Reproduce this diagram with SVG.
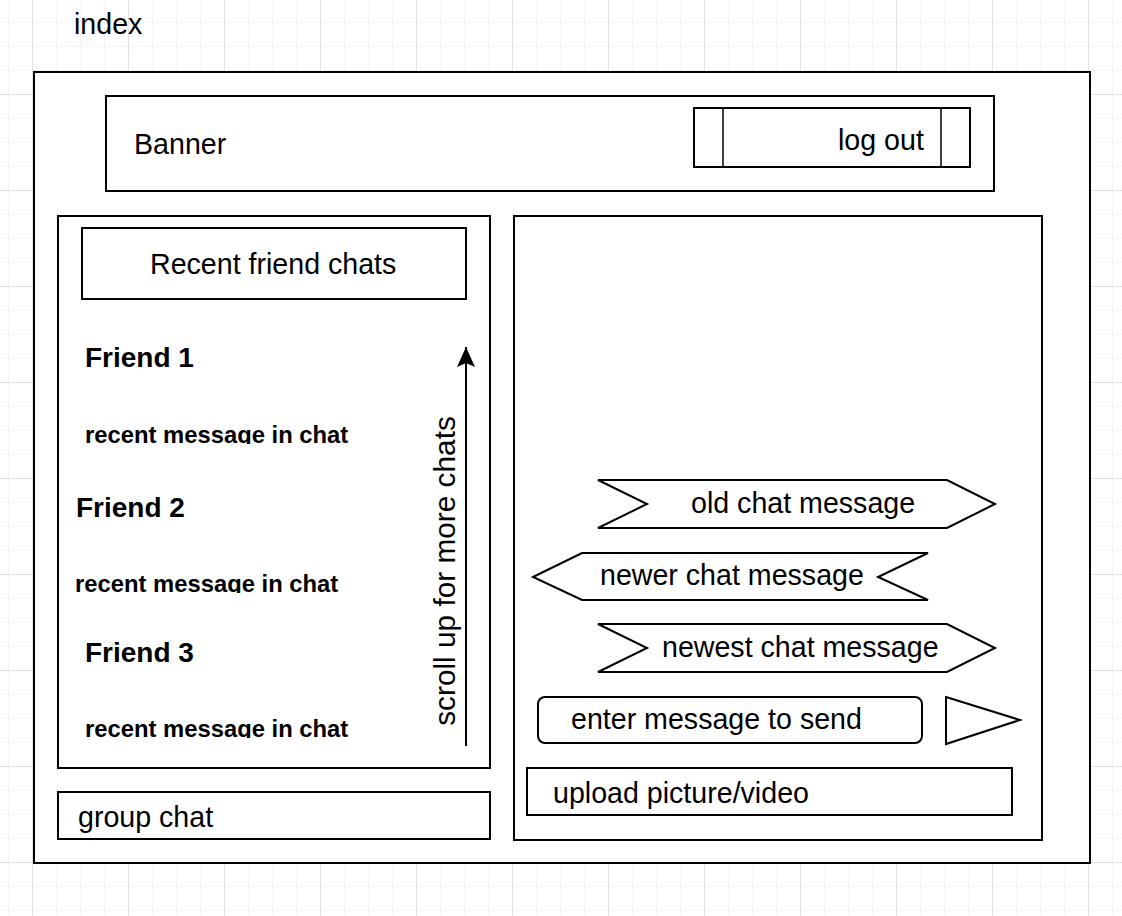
<svg xmlns="http://www.w3.org/2000/svg" width="1122" height="916" viewBox="0 0 1122 916">
<defs>
<style>
.t{font-family:"Liberation Sans",Arial,Helvetica,sans-serif;font-size:28.6px;fill:#000}
.b{font-weight:bold;font-size:28px}
.s{font-size:23.8px}
.v{font-size:29.8px}
.box{fill:#fff;stroke:#000;stroke-width:2}
.ln{fill:none;stroke:#000;stroke-width:1.5}
</style>
<pattern id="minor" patternUnits="userSpaceOnUse" x="8" y="22" width="24" height="24">
<rect x="0" y="0" width="1" height="24" fill="#f3f3f3"/>
<rect x="0" y="0" width="24" height="1" fill="#f3f3f3"/>
</pattern>
<pattern id="major" patternUnits="userSpaceOnUse" x="32" y="94" width="96" height="96">
<rect x="0" y="0" width="1" height="96" fill="#e2e2e2"/>
<rect x="0" y="0" width="96" height="1" fill="#e2e2e2"/>
</pattern>
<marker id="arrow" viewBox="0 0 20 20" refX="20" refY="10" markerWidth="20" markerHeight="20" markerUnits="userSpaceOnUse" orient="auto">
<path d="M0,1 L20,10 L0,19 L4,10 Z" fill="#000"/>
</marker>
<clipPath id="c1"><rect x="60" y="410" width="400" height="34"/></clipPath>
<clipPath id="c2"><rect x="60" y="560" width="400" height="33"/></clipPath>
<clipPath id="c3"><rect x="60" y="705" width="400" height="33"/></clipPath>
</defs>
<rect width="1122" height="916" fill="#fff"/>
<rect width="1122" height="916" fill="url(#minor)"/>
<rect width="1122" height="916" fill="url(#major)"/>

<g id="index-label"><text class="t" x="74" y="34">index</text></g>

<g id="index-frame"><rect class="box" x="34" y="72" width="1056" height="791"/></g>

<g id="banner">
<rect class="box" x="106" y="96" width="888" height="95"/>
<text class="t" x="134" y="154">Banner</text>
</g>

<g id="logout">
<rect class="box" x="694" y="108" width="276" height="59"/>
<line class="ln" x1="723" y1="108" x2="723" y2="167"/>
<line class="ln" x1="941" y1="108" x2="941" y2="167"/>
<text class="t" x="838" y="150">log out</text>
</g>

<g id="friends-panel"><rect class="box" x="58" y="216" width="432" height="552"/></g>

<g id="recent-friend-chats">
<rect class="box" x="82" y="228" width="384" height="71"/>
<text class="t" x="150" y="274">Recent friend chats</text>
</g>

<g id="friend1">
<text class="t b" x="85" y="367">Friend 1</text>
<text class="t b s" x="85" y="443" clip-path="url(#c1)">recent message in chat</text>
</g>
<g id="friend2">
<text class="t b" x="76" y="517">Friend 2</text>
<text class="t b s" x="75" y="592" clip-path="url(#c2)">recent message in chat</text>
</g>
<g id="friend3">
<text class="t b" x="85" y="662">Friend 3</text>
<text class="t b s" x="85" y="737" clip-path="url(#c3)">recent message in chat</text>
</g>

<g id="scroll-label">
<text class="t v" transform="translate(455,571) rotate(-90)" text-anchor="middle">scroll up for more chats</text>
</g>

<g id="group-chat">
<rect class="box" x="58" y="792" width="432" height="47"/>
<text class="t" x="78" y="827">group chat</text>
</g>

<g id="chat-panel"><rect class="box" x="514" y="216" width="528" height="624"/></g>

<g id="old-message">
<polygon class="box" points="598,480 947,480 995,504 947,528 598,528 647,504"/>
<text class="t" x="691" y="513">old chat message</text>
</g>

<g id="newer-message">
<polygon class="box" points="533,577 582,553 928,553 878,577 928,600 582,600"/>
<text class="t" x="600" y="585">newer chat message</text>
</g>

<g id="newest-message">
<polygon class="box" points="598,624 947,624 995,648 947,672 598,672 647,648"/>
<text class="t" x="662" y="657">newest chat message</text>
</g>

<g id="enter-message">
<rect class="box" x="538" y="697" width="384" height="46" rx="7" ry="7"/>
<text class="t" x="571" y="729">enter message to send</text>
</g>

<g id="send-button">
<polygon class="box" points="946,697 1020,720 946,744"/>
</g>

<g id="upload">
<rect class="box" x="527" y="768" width="485" height="47"/>
<text class="t" x="553" y="803">upload picture/video</text>
</g>

<g id="connectors">
<line x1="466" y1="746" x2="466" y2="347" stroke="#000" stroke-width="2" marker-end="url(#arrow)"/>
</g>
</svg>
